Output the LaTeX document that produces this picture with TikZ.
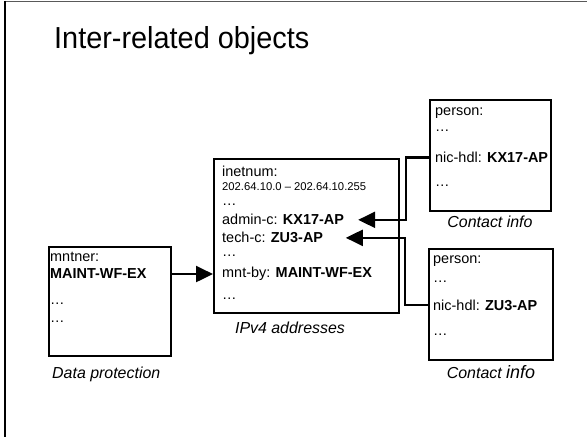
\documentclass[tikz,border=0pt]{standalone}
\usepackage{fontspec}
\setmainfont{Liberation Sans}
\newfontfamily\titlefont[FakeStretch=0.95]{Liberation Sans}
\usetikzlibrary{arrows.meta,calc}

\tikzset{
  objbox/.style={draw, line width=2.3bp, anchor=north west, inner sep=0pt},
  attr/.style={anchor=base west, inner sep=0pt, font=\fontsize{14.5}{17}\selectfont},
  small/.style={anchor=base west, inner sep=0pt, font=\fontsize{11.3}{13}\selectfont},
  caption/.style={anchor=base, inner sep=0pt, font=\fontsize{16}{19}\selectfont\itshape},
  link/.style={line width=2.3bp},
  tip/.style={-{Triangle[length=17bp,width=16bp]}}
}

\begin{document}
\begin{tikzpicture}[x=1bp, y=-1bp]
\useasboundingbox (0,0) rectangle (587,437);

% slide frame
\draw[line width=1.6bp, black!65] (5,1.5) -- (587,1.5);
\draw[line width=1.4bp] (5,1) -- (5,437);

% title
\node[anchor=base west, inner sep=0pt, font=\titlefont\fontsize{30.5}{36}\selectfont] (title) at (54,49) {Inter-related objects};

% maintainer object
\node[objbox, minimum width=122bp, minimum height=109bp] (mnt) at (48,246) {};
\node[attr] (mntA) at (50,262) {mntner:};
\node[attr] (mntB) at (50,279) {\textbf{MAINT-WF-EX}};
\node[attr] (mntC) at (50,304) {…};
\node[attr] (mntD) at (50,322) {…};
\node[caption, anchor=base west] (mntcap) at (52,378) {Data protection};

% inetnum object
\node[objbox, minimum width=185bp, minimum height=154bp] (inet) at (213,158) {};
\node[attr] (inA) at (222,177) {inetnum:};
\node[small] (inB) at (222,191) {202.64.10.0 – 202.64.10.255};
\node[attr] (inC) at (222,206) {…};
\node[attr] (adm) at (222,225) {admin-c: \textbf{KX17-AP}};
\node[attr] (tech) at (222,243) {tech-c: \textbf{ZU3-AP}};
\node[attr] (inF) at (222,257) {…};
\node[attr] (mntby) at (222,278) {mnt-by: \textbf{MAINT-WF-EX}};
\node[attr] (inH) at (222,299) {…};
\node[caption] (incap) at (290,333) {IPv4 addresses};

% first person object
\node[objbox, minimum width=121bp, minimum height=111bp] (p1) at (429,99) {};
\node[attr] (p1A) at (435,116) {person:};
\node[attr] (p1B) at (435,132) {…};
\node[attr] (nic1) at (435,162.7) {nic-hdl: \textbf{KX17-AP}};
\node[attr] (p1D) at (435,187) {…};
\node[caption] (p1cap) at (490,228) {Contact info};

% second person object
\node[objbox, minimum width=124bp, minimum height=111bp] (p2) at (428,248) {};
\node[attr] (p2A) at (433,264) {person:};
\node[attr] (p2B) at (433,283) {…};
\node[attr] (nic2) at (433,310) {nic-hdl: \textbf{ZU3-AP}};
\node[attr] (p2D) at (433,335) {…};
\node[caption] (p2cap) at (491,378) {Contact {\fontsize{18}{20}\selectfont info}};

% references between objects
\draw[link, tip] (mnt.east |- mntB.center) -- (inet.west |- mntB.center);
\draw[link, tip] (p1.west |- nic1.center) -- ++(-23,0) |- ([xshift=14bp]adm.east);
\draw[link, tip] (p2.west |- nic2.center) -- ++(-23,0) |- ([xshift=14bp+8.5bp]tech.east);
\end{tikzpicture}
\end{document}
